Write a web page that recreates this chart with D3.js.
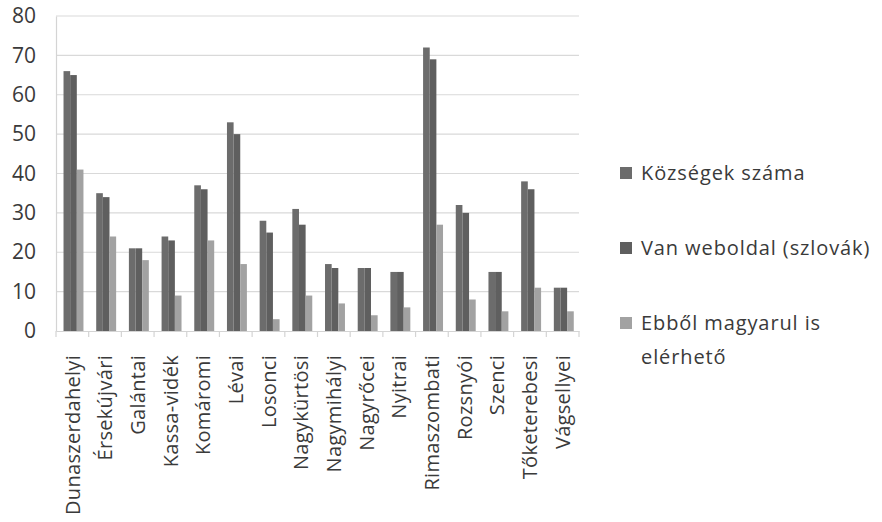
<!DOCTYPE html>
<html>
<head>
<meta charset="utf-8">
<script src="https://cdn.jsdelivr.net/npm/d3@7"></script>
<style>
  html, body { margin: 0; padding: 0; background: #fff; }
  svg { display: block; }
</style>
</head>
<body>
<svg id="chart" width="882" height="522"></svg>
<script>
// Járások (districts)
const categories = [
  "Dunaszerdahelyi", "Érsekújvári", "Galántai", "Kassa-vidék", "Komáromi",
  "Lévai", "Losonci", "Nagykürtösi", "Nagymihályi", "Nagyrőcei", "Nyitrai",
  "Rimaszombati", "Rozsnyói", "Szenci", "Tőketerebesi", "Vágsellyei"
];

// Series values
const kozsegekSzama   = [66, 35, 21, 24, 37, 53, 28, 31, 17, 16, 15, 72, 32, 15, 38, 11];
const vanWeboldal     = [65, 34, 21, 23, 36, 50, 25, 27, 16, 16, 15, 69, 30, 15, 36, 11];
const magyarulIs      = [41, 24, 18,  9, 23, 17,  3,  9,  7,  4,  6, 27,  8,  5, 11,  5];

const seriesNames = ["Községek száma", "Van weboldal (szlovák)", "Ebből magyarul is elérhető"];
const yTicks = [0, 10, 20, 30, 40, 50, 60, 70, 80];

const series = [
  { name: seriesNames[0], values: kozsegekSzama, color: "#6c6c6c" },
  { name: seriesNames[1], values: vanWeboldal,   color: "#5f5f5f" },
  { name: seriesNames[2], values: magyarulIs,    color: "#a2a2a2" }
];

const svg = d3.select("#chart");
const font = "'Open Sans', 'Noto Sans', sans-serif";
const textColor = "#3a3a3a";

const plot = { left: 56, right: 579, top: 16, bottom: 331 };

const y = d3.scaleLinear().domain([0, 80]).range([plot.bottom, plot.top]);
const x = d3.scaleBand().domain(categories).range([plot.left, plot.right]).padding(0);
const bandW = x.bandwidth();
const x1 = d3.scaleBand().domain(seriesNames)
  .range([bandW * 0.23, bandW * 0.84]).padding(0);

// Horizontal gridlines
svg.append("g")
  .selectAll("line")
  .data(yTicks.filter(d => d > 0))
  .join("line")
  .attr("x1", plot.left).attr("x2", plot.right)
  .attr("y1", d => y(d)).attr("y2", d => y(d))
  .attr("stroke", "#d9d9d9").attr("stroke-width", 1.2);

// Y axis
const yAxis = svg.append("g")
  .attr("transform", `translate(${plot.left},0)`)
  .call(d3.axisLeft(y).tickValues(yTicks).tickSize(0).tickPadding(20));
yAxis.select(".domain").attr("stroke", "#d4d4d4").attr("stroke-width", 1.2);
yAxis.selectAll("text")
  .attr("font-family", font).attr("font-size", 21).attr("fill", textColor);

// Bars
const groups = svg.append("g")
  .selectAll("g")
  .data(categories)
  .join("g")
  .attr("transform", d => `translate(${x(d)},0)`);

groups.selectAll("rect")
  .data((d, i) => series.map(s => ({ name: s.name, value: s.values[i], color: s.color })))
  .join("rect")
  .attr("x", d => x1(d.name))
  .attr("width", x1.bandwidth())
  .attr("y", d => y(d.value))
  .attr("height", d => y(0) - y(d.value))
  .attr("fill", d => d.color);

// X axis with category labels
const xAxis = svg.append("g")
  .attr("transform", `translate(0,${plot.bottom})`)
  .call(d3.axisBottom(x).tickSize(0).tickFormat(d => d));
xAxis.select(".domain").attr("stroke", "#d4d4d4").attr("stroke-width", 1.2);
xAxis.selectAll(".tick text")
  .attr("font-family", font).attr("font-size", 20).attr("fill", textColor)
  .attr("letter-spacing", 0.3)
  .attr("transform", "rotate(-90)")
  .attr("text-anchor", "end")
  .attr("x", -24).attr("y", 0).attr("dy", "0.36em");

// Tick marks between categories
svg.append("g")
  .selectAll("line")
  .data(d3.range(categories.length + 1))
  .join("line")
  .attr("x1", i => plot.left + i * bandW).attr("x2", i => plot.left + i * bandW)
  .attr("y1", plot.bottom).attr("y2", plot.bottom + 6)
  .attr("stroke", "#d4d4d4").attr("stroke-width", 1.2);

// Legend
const legend = svg.append("g").attr("transform", "translate(620,0)");
const legendRows = [
  { lines: [seriesNames[0]], y: 173 },
  { lines: [seriesNames[1]], y: 248 },
  { lines: ["Ebből magyarul is", "elérhető"], y: 323 }
];
legendRows.forEach((row, i) => {
  legend.append("rect")
    .attr("x", 0).attr("y", row.y - 6)
    .attr("width", 12).attr("height", 12)
    .attr("fill", series[i].color);
  const t = legend.append("text")
    .attr("font-family", font).attr("font-size", 20).attr("fill", textColor)
    .attr("letter-spacing", 0.9);
  row.lines.forEach((ln, j) => {
    t.append("tspan").attr("x", 21).attr("y", row.y + j * 34).attr("dy", "0.36em").text(ln);
  });
});
</script>
</body>
</html>
